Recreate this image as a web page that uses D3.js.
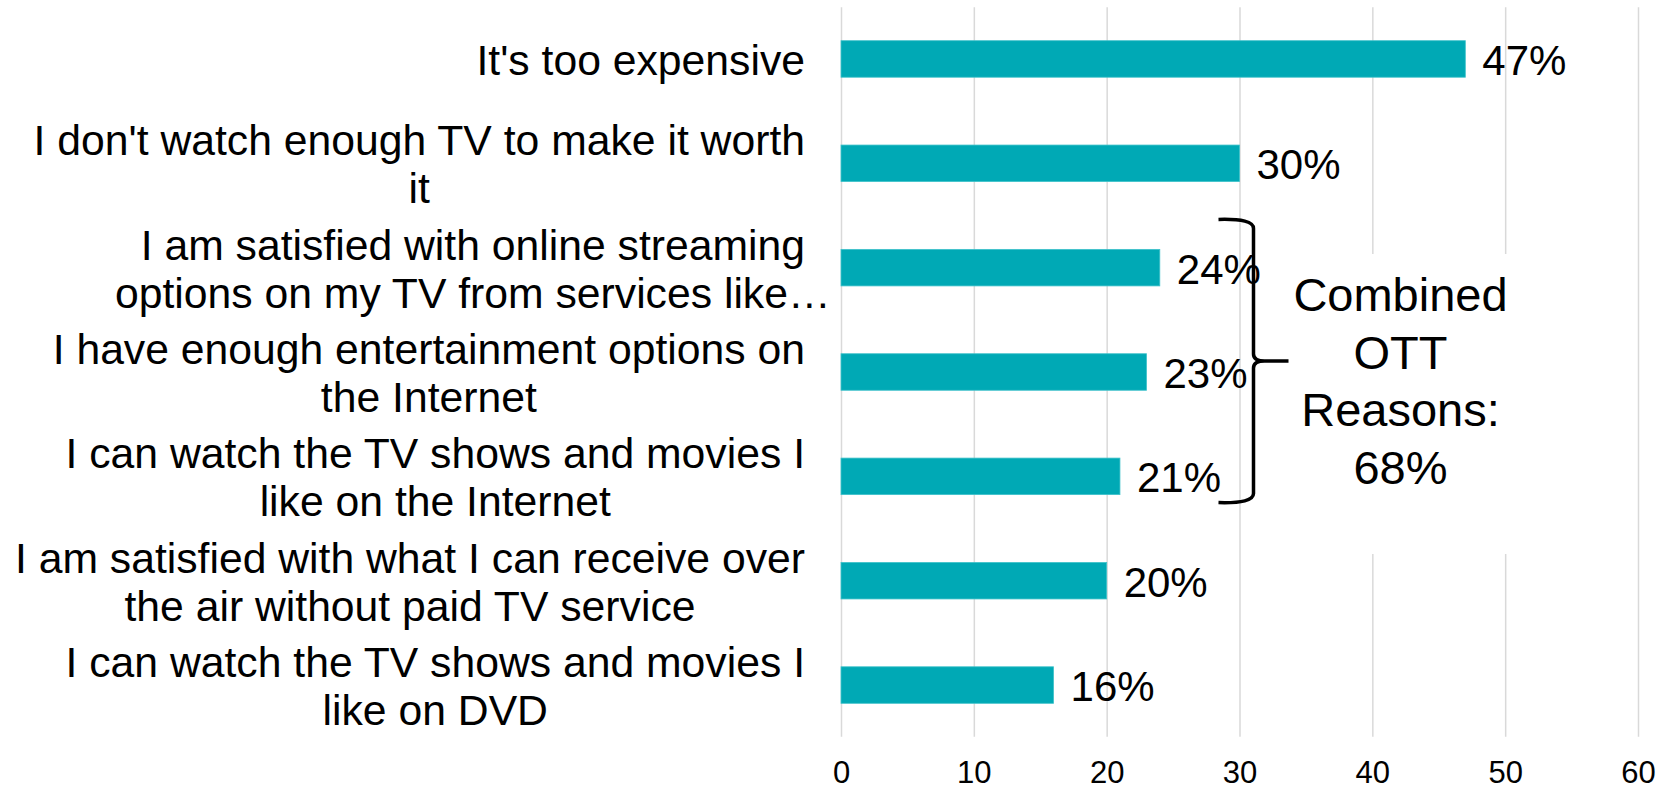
<!DOCTYPE html>
<html>
<head>
<meta charset="utf-8">
<script src="https://cdn.jsdelivr.net/npm/d3@7"></script>
<style>
  html, body { margin: 0; padding: 0; background: #ffffff; }
  svg { display: block; font-family: "Liberation Sans", Arial, sans-serif; }
</style>
</head>
<body>
<svg id="chart" width="1659" height="790"></svg>
<script>
// Reasons for not subscribing to paid TV (share of respondents, %)
const categories = [
  ["It's too expensive"],
  ["I don't watch enough TV to make it worth", "it"],
  ["I am satisfied with online streaming", "options on my TV from services like\u2026"],
  ["I have enough entertainment options on", "the Internet"],
  ["I can watch the TV shows and movies I", "like on the Internet"],
  ["I am satisfied with what I can receive over", "the air without paid TV service"],
  ["I can watch the TV shows and movies I", "like on DVD"]
];
const values = [47, 30, 24, 23, 21, 20, 16];
const xTicks = [0, 10, 20, 30, 40, 50, 60];

// Bracketed group of OTT-related reasons and its callout
const groupFirst = 2;
const groupLast = 4;
const groupNote = ["Combined", "OTT", "Reasons:", "68%"];

const svg = d3.select("#chart");

const plotTop = 7.3, plotBottom = 736.7;
const x = d3.scaleLinear().domain([0, 60]).range([841, 1638]);
const y = d3.scaleBand()
  .domain(d3.range(categories.length))
  .range([plotTop, plotBottom])
  .paddingInner(0.65)
  .paddingOuter(0.32);
const bw = y.bandwidth();

// Vertical gridlines and tick labels
const axis = svg.append("g")
  .attr("transform", `translate(0,${plotBottom})`)
  .call(d3.axisBottom(x).tickValues(xTicks).tickSize(-(plotBottom - plotTop)).tickPadding(24));
axis.select(".domain").remove();
axis.selectAll(".tick line").attr("stroke", "#d9d9d9").attr("stroke-width", 1.5);
axis.selectAll(".tick text")
  .attr("fill", "#000")
  .style("font-family", "'Liberation Sans', Arial, sans-serif")
  .style("font-size", "31px");

// Bracket geometry
const yTop = y(groupFirst) - 30;
const yBot = y(groupLast) + bw + 8;
const yMid = (yTop + yBot) / 2;
const xv = x(30) + 14;
const xTip = xv - 35;
const xPoint = xv + 35;
const noteX = xPoint + 112;

// White callout box, hiding the gridlines behind the note
svg.append("rect")
  .attr("x", noteX - 115)
  .attr("y", yMid - 107)
  .attr("width", 235)
  .attr("height", 300)
  .attr("fill", "#ffffff");

// Bars
svg.append("g").selectAll("rect")
  .data(values)
  .join("rect")
  .attr("x", x(0))
  .attr("y", (d, i) => y(i))
  .attr("width", d => x(d) - x(0))
  .attr("height", bw)
  .attr("fill", "#00a9b5")
  .attr("stroke", "#3fc2ca")
  .attr("stroke-width", 0.8);

// Value labels
svg.append("g").selectAll("text")
  .data(values)
  .join("text")
  .attr("x", d => x(d) + 17)
  .attr("y", (d, i) => y(i) + bw / 2)
  .attr("dy", "0.38em")
  .attr("font-size", 42)
  .attr("fill", "#000")
  .text(d => d + "%");

// Category labels: lines centred on each other, block right-aligned on the first line
const labelRight = 805;
const lineGap = 48;
const labels = svg.append("g").attr("font-size", 42.7).attr("fill", "#000");
categories.forEach((lines, i) => {
  const probe = labels.append("text").text(lines[0]);
  const w = probe.node().getComputedTextLength();
  probe.remove();
  const cx = labelRight - w / 2;
  const cy = y(i) + bw / 2;
  const t = labels.append("text").attr("text-anchor", "middle");
  lines.forEach((ln, k) => {
    t.append("tspan")
      .attr("x", cx)
      .attr("y", cy + 16 - (lines.length - 1) * lineGap / 2 + k * lineGap)
      .text(ln);
  });
});

// Curly bracket spanning the OTT reasons
const brace = d3.path();
brace.moveTo(xTip, yTop);
brace.quadraticCurveTo(xv, yTop - 1, xv, yTop + 9);
brace.lineTo(xv, yMid - 7);
brace.quadraticCurveTo(xv, yMid, xv + 11, yMid);
brace.lineTo(xPoint, yMid);
brace.moveTo(xv + 11, yMid);
brace.quadraticCurveTo(xv, yMid, xv, yMid + 7);
brace.lineTo(xv, yBot - 9);
brace.quadraticCurveTo(xv, yBot + 1, xTip, yBot);
svg.append("path")
  .attr("d", brace.toString())
  .attr("fill", "none")
  .attr("stroke", "#000")
  .attr("stroke-width", 3.5)
  .attr("stroke-linejoin", "round");

// Callout text
svg.append("text")
  .attr("text-anchor", "middle")
  .attr("font-size", 47)
  .attr("fill", "#000")
  .selectAll("tspan")
  .data(groupNote)
  .join("tspan")
  .attr("x", noteX)
  .attr("y", (d, k) => yMid - 50 + k * 57.5)
  .text(d => d);
</script>
</body>
</html>
